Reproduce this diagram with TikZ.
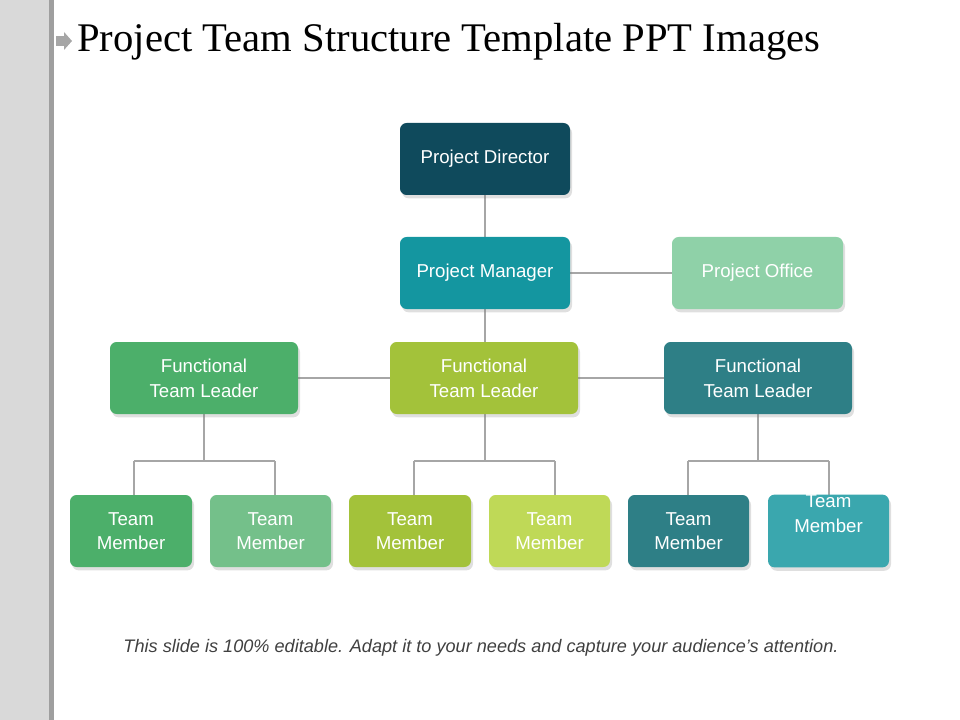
\documentclass[tikz,border=0pt]{standalone}
\usepackage{fontspec}
\setmainfont{Liberation Sans}
\newfontfamily\serifx{Liberation Serif}
\usetikzlibrary{shadows}
\definecolor{cdir}{HTML}{0F4A5C}
\definecolor{cman}{HTML}{1496A0}
\definecolor{coff}{HTML}{8FD1A8}
\definecolor{cga}{HTML}{4CAF6A}
\definecolor{cgb}{HTML}{74C08A}
\definecolor{cya}{HTML}{A3C23A}
\definecolor{cyb}{HTML}{BFD957}
\definecolor{cta}{HTML}{2E7F86}
\definecolor{ctb}{HTML}{3AA7AE}
\tikzset{
 box/.style={rounded corners=5pt, inner sep=0pt, fill=#1, text=white, align=center, font=\fontsize{14}{18.5}\selectfont, drop shadow={opacity=0.25, shadow xshift=1.5pt, shadow yshift=-2.5pt}},
 conn/.style={draw=gray!70, line width=1.2pt}
}
\newcommand{\bx}[7]{\node[box=#6, minimum width={(#3-#2)*0.75pt}, minimum height={(#5-#4)*0.75pt}] (#1) at ({(#2+#3)/2*0.75pt},{-(#4+#5)/2*0.75pt}) {#7};}
\begin{document}
\begin{tikzpicture}[x=0.75pt,y=-0.75pt]
\useasboundingbox (0,0) rectangle (960,720);
\fill[gray!30] (0,0) rectangle (49,720);
\fill[gray!75] (49,0) rectangle (54,720);
\fill[gray!70] (56,36) rectangle (64,46);
\fill[gray!70] (64,32) -- (72,41) -- (64,50) -- cycle;
\node[anchor=west, inner sep=0pt, font=\serifx\fontsize{30.5}{36}\selectfont] (title) at (77,42) {Project Team Structure Template PPT Images};
\coordinate (j1) at (204,461); \coordinate (j1a) at (134,461); \coordinate (j1b) at (275,461);
\coordinate (j2) at (485,461); \coordinate (j2a) at (414,461); \coordinate (j2b) at (555,461);
\coordinate (j3) at (758,461); \coordinate (j3a) at (688,461); \coordinate (j3b) at (829,461);
\draw[conn] (485,159) -- (485,378);
\draw[conn] (485,273) -- (757,273);
\draw[conn] (204,378) -- (758,378);
\draw[conn] (204,378) -- (j1); \draw[conn] (j1a) -- (j1b); \draw[conn] (j1a) -- (134,500); \draw[conn] (j1b) -- (275,500);
\draw[conn] (485,378) -- (j2); \draw[conn] (j2a) -- (j2b); \draw[conn] (j2a) -- (414,500); \draw[conn] (j2b) -- (555,500);
\draw[conn] (758,378) -- (j3); \draw[conn] (j3a) -- (j3b); \draw[conn] (j3a) -- (688,500); \draw[conn] (j3b) -- (829,500);
\bx{dir}{400}{570}{123}{195}{cdir}{Project Director}
\bx{man}{400}{570}{237}{309}{cman}{Project Manager}
\bx{off}{672}{843}{237}{309}{coff}{Project Office}
\bx{fl}{110}{298}{342}{414}{cga}{Functional\\Team Leader}
\bx{fm}{390}{578}{342}{414}{cya}{Functional\\Team Leader}
\bx{fr}{664}{852}{342}{414}{cta}{Functional\\Team Leader}
\bx{t1}{70}{192}{495}{567}{cga}{Team\\Member}
\bx{t2}{210}{331}{495}{567}{cgb}{Team\\Member}
\bx{t3}{349}{471}{495}{567}{cya}{Team\\Member}
\bx{t4}{489}{610}{495}{567}{cyb}{Team\\Member}
\bx{t5}{628}{749}{495}{567}{cta}{Team\\Member}
\bx{t6}{768}{889}{495}{567}{ctb}{Team\\Member\\[8pt]}
\node[font=\itshape\fontsize{13.6}{16}\selectfont, text=black!75] (foot) at (481,648) {This slide is 100\% editable. Adapt it to your needs and capture your audience’s attention.};
\end{tikzpicture}
\end{document}
